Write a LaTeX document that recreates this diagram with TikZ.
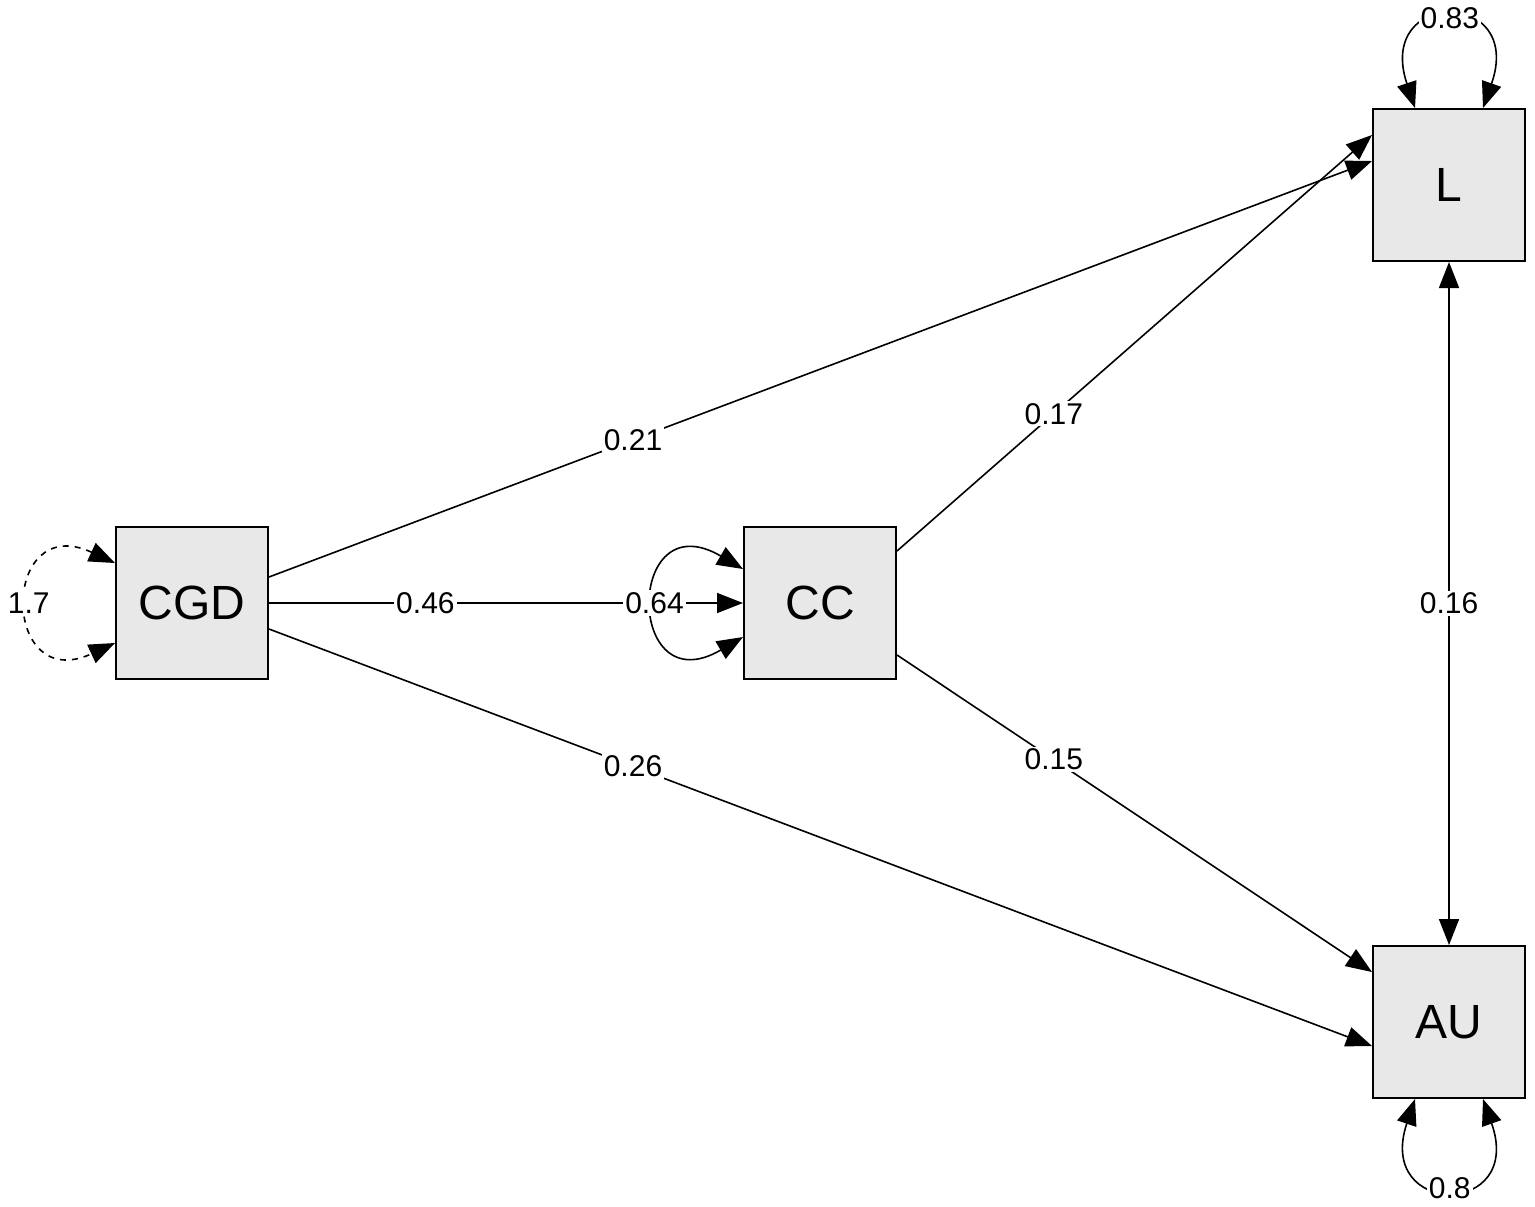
\documentclass[tikz,border=0pt]{standalone}
\usepackage{fontspec}
\setmainfont{Liberation Sans}
\usetikzlibrary{arrows.meta}
\tikzset{
  var/.style={draw, line width=1pt, fill=gray!18, minimum size=76pt, inner sep=0pt, font=\fontsize{24}{28}\selectfont},
  path/.style={line width=0.8pt, -{Triangle[length=13pt,width=10pt]}},
  cov/.style={line width=0.8pt, {Triangle[length=13pt,width=10pt]}-{Triangle[length=13pt,width=10pt]}},
  est/.style={fill=white, inner sep=1pt, font=\fontsize{15}{17}\selectfont},
}
\begin{document}
\begin{tikzpicture}[x=0.5pt,y=-0.5pt]
\useasboundingbox (0,0) rectangle (1535,1206);

% variables
\node[var] (cgd) at (192,603) {CGD};
\node[var] (cc) at (820,603) {CC};
\node[var] (l) at (1449,185) {L};
\node[var] (au) at (1449,1022) {AU};

% regressions
\draw[path] ([yshift=13pt]cgd.east) -- node[est, pos=0.33] {0.21} ([yshift=12pt]l.west);
\draw[path] (cgd.east) -- node[est, pos=0.33] {0.46} (cc.west);
\draw[path] ([yshift=-13pt]cgd.east) -- node[est, pos=0.33] {0.26} ([yshift=-12pt]au.west);
\draw[path] ([yshift=26pt]cc.east) -- node[est, pos=0.33] {0.17} ([yshift=25pt]l.west);
\draw[path] ([yshift=-26pt]cc.east) -- node[est, pos=0.33] {0.15} ([yshift=25pt]au.west);

% covariance
\draw[cov] (l.south) -- node[est, pos=0.5] {0.16} (au.north);

% variances
\draw[cov, dashed] ([yshift=20pt]cgd.west) .. controls (0,510) and (0,696) .. node[est] {1.7} ([yshift=-20pt]cgd.west);
\draw[cov] ([yshift=17pt]cc.west) .. controls (625,500) and (625,706) .. node[est, pos=0.5] {0.64} ([yshift=-17pt]cc.west);
\draw[cov] ([xshift=-17pt]l.north) .. controls (1375,-12) and (1525,-12) .. node[est] {0.83} ([xshift=17pt]l.north);
\draw[cov] ([xshift=-17pt]au.south) .. controls (1375,1218) and (1525,1218) .. node[est] {0.8} ([xshift=17pt]au.south);

\end{tikzpicture}
\end{document}
